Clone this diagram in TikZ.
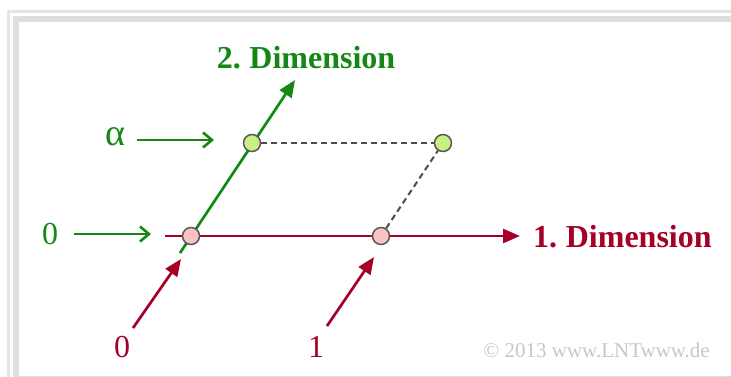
\documentclass[tikz,border=0pt]{standalone}
\usepackage{fontspec}
\setmainfont{Liberation Serif}
\usetikzlibrary{arrows.meta}
\definecolor{dimred}{RGB}{165,0,40}
\definecolor{dimgreen}{RGB}{20,135,20}
\definecolor{ptred}{RGB}{250,195,195}
\definecolor{ptgreen}{RGB}{200,240,130}
\definecolor{framegray}{RGB}{222,222,222}
\begin{document}
\begin{tikzpicture}[x=1pt,y=-1pt,
		      pnt/.style={circle, draw=black!65, line width=1.5pt, inner sep=0pt, minimum size=17pt},
		      axisline/.style={line width=2.7pt, -{Triangle[length=17pt,width=14pt]}},
		      pointer/.style={dimred, line width=2.7pt, -{Triangle[length=17pt,width=14pt]}},
		      level/.style={dimgreen, line width=2.6pt, -{Straight Barb[length=9pt,width=15pt]}},
		      big/.style={font=\fontsize{32}{32}\selectfont},
		      every node/.style={inner sep=0pt}]
	      \useasboundingbox (0,0) rectangle (731,376);
	      \draw[framegray!80, line width=3pt] (8.5,11.5) rectangle (760,400);
	      \draw[framegray, line width=6pt] (16,19) rectangle (750,379);
	      % points
	      \coordinate (start1) at (165,236);
	      \coordinate (end1) at (520,236);
	      \coordinate (start2) at (180,253);
	      \coordinate (end2) at (295,80);
	      \draw[axisline, dimred] (start1) -- (end1);
	      \draw[axisline, dimgreen] (start2) -- (end2);
	      \node[pnt, fill=ptred] (a0) at (191,236) {};
	      \node[pnt, fill=ptred] (a1) at (381,236) {};
	      \node[pnt, fill=ptgreen] (b0) at (252,143) {};
	      \node[pnt, fill=ptgreen] (b1) at (443,143) {};
	      \draw[black!70, line width=1.6pt, dash pattern=on 6pt off 4pt] (b0) -- (b1);
	      \draw[black!70, line width=2pt, dash pattern=on 6pt off 4pt] (a1) -- (b1);
	      % labels
	      \node[big, font=\fontsize{32}{32}\selectfont\bfseries, dimred, anchor=west] (dim1) at (533,237) {1.\kern-2pt{} Dimension};
	      \node[big, font=\fontsize{32}{32}\selectfont\bfseries, dimgreen] (dim2) at (306,58) {2.\kern-2pt{} Dimension};
	      \node[font=\fontsize{38}{38}\selectfont, dimgreen] (alpha) at (115,137) {α};
	      \node[big, dimgreen] (zero2) at (50,234) {0};
	      \node[big, dimred] (zero1) at (122,347) {0};
	      \node[big, dimred] (one1) at (316,347) {1};
	      \coordinate (alphatip) at (214,140);
	      \coordinate (zerotip) at (151,234);
	      \coordinate (p0tip) at (181,259);
	      \coordinate (p1tip) at (374,257);
	      \draw[level] (137,140) -- (alphatip);
	      \draw[level] (74,234) -- (zerotip);
	      \draw[pointer] (133,328) -- (p0tip);
	      \draw[pointer] (327,326) -- (p1tip);
	      \node[black!22, font=\fontsize{21}{21}\selectfont, anchor=east] (copy) at (710,350) {© 2013 www.LNTwww.de};
	      \end{tikzpicture}
\end{document}
